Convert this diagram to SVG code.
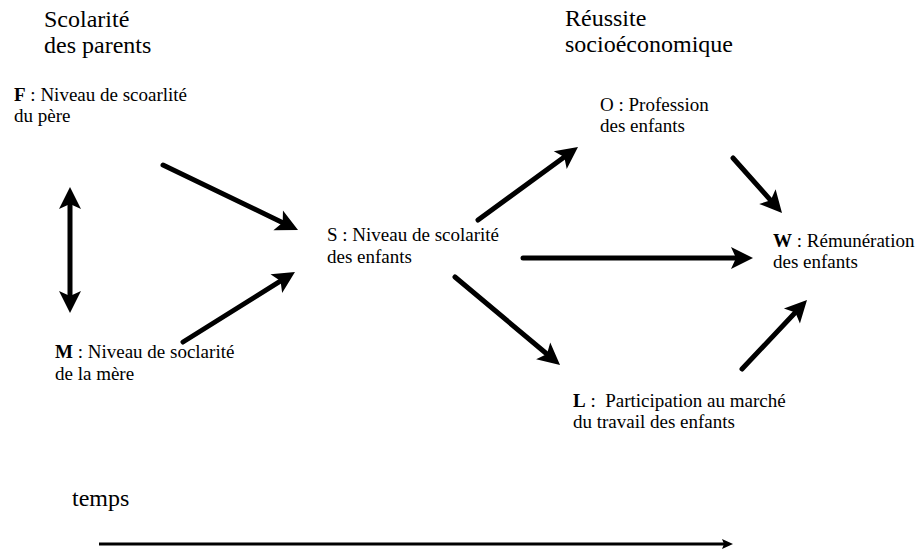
<svg xmlns="http://www.w3.org/2000/svg" width="918" height="550" viewBox="0 0 918 550">
  <style>
    text { font-family: "Liberation Serif", "Times New Roman", serif; fill: #000; }
    .title { font-size: 24px; }
    .lbl { font-size: 19px; }
    .b { font-weight: bold; }
    .arrow { fill: none; stroke: #000; stroke-width: 5; stroke-linecap: round; }
    .time { fill: none; stroke: #000; stroke-width: 3; }
  </style>
  <defs>
    <marker id="head" markerUnits="userSpaceOnUse" viewBox="-2 -12 26 24" markerWidth="26" markerHeight="24" refX="8" refY="0" orient="auto-start-reverse">
      <path d="M22,0 L0,-11 L5,0 L0,11 Z" fill="#000"/>
    </marker>
    <marker id="small" markerUnits="userSpaceOnUse" viewBox="-1 -6 13 12" markerWidth="13" markerHeight="12" refX="2" refY="0" orient="auto">
      <path d="M11,0 L0,-5 L2,0 L0,5 Z" fill="#000"/>
    </marker>
  </defs>

  <!-- column headings -->
  <g id="heading-parents">
    <text class="title" x="44" y="27">Scolarité</text>
    <text class="title" x="44" y="53">des parents</text>
  </g>
  <g id="heading-reussite">
    <text class="title" x="565" y="26">Réussite</text>
    <text class="title" x="565" y="52">socioéconomique</text>
  </g>

  <!-- variables -->
  <g id="node-F">
    <text class="lbl" x="14" y="101"><tspan class="b">F</tspan> : Niveau de scoarlité</text>
    <text class="lbl" x="14" y="122">du père</text>
  </g>
  <g id="node-M">
    <text class="lbl" x="55" y="358"><tspan class="b">M</tspan> : Niveau de soclarité</text>
    <text class="lbl" x="55" y="380">de la mère</text>
  </g>
  <g id="node-S">
    <text class="lbl" x="327" y="241">S : Niveau de scolarité</text>
    <text class="lbl" x="327" y="263">des enfants</text>
  </g>
  <g id="node-O">
    <text class="lbl" x="600" y="111">O : Profession</text>
    <text class="lbl" x="600" y="132">des enfants</text>
  </g>
  <g id="node-W">
    <text class="lbl" x="773" y="247"><tspan class="b">W</tspan> : Rémunération</text>
    <text class="lbl" x="773" y="268">des enfants</text>
  </g>
  <g id="node-L">
    <text class="lbl" x="573" y="407" xml:space="preserve"><tspan class="b">L</tspan> :  Participation au marché</text>
    <text class="lbl" x="573" y="428">du travail des enfants</text>
  </g>
  <g id="node-temps">
    <text class="title" x="72" y="506">temps</text>
  </g>

  <!-- causal links -->
  <g id="connectors">
    <line class="arrow" x1="70" y1="201" x2="70" y2="299" marker-start="url(#head)" marker-end="url(#head)"/>
    <line class="arrow" x1="163" y1="165" x2="285.4" y2="223.9" marker-end="url(#head)"/>
    <line class="arrow" x1="183" y1="342" x2="283.1" y2="279.4" marker-end="url(#head)"/>
    <line class="arrow" x1="478" y1="220" x2="566.7" y2="155.3" marker-end="url(#head)"/>
    <line class="arrow" x1="523" y1="258" x2="739" y2="258" marker-end="url(#head)"/>
    <line class="arrow" x1="455" y1="277" x2="549.3" y2="356" marker-end="url(#head)"/>
    <line class="arrow" x1="733" y1="158" x2="772.7" y2="202.6" marker-end="url(#head)"/>
    <line class="arrow" x1="742" y1="369" x2="797.4" y2="310.2" marker-end="url(#head)"/>
    <line class="time" x1="99" y1="544" x2="724" y2="544" marker-end="url(#small)"/>
  </g>
</svg>
